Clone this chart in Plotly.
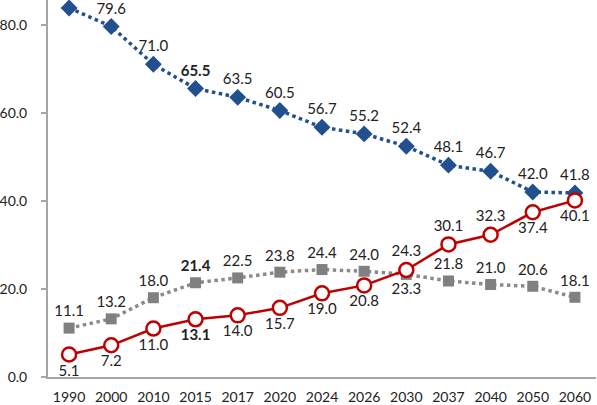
import plotly.graph_objects as go

years = ["1990", "2000", "2010", "2015", "2017", "2020", "2024", "2026", "2030", "2037", "2040", "2050", "2060"]
blue_vals = [83.8, 79.6, 71.0, 65.5, 63.5, 60.5, 56.7, 55.2, 52.4, 48.1, 46.7, 42.0, 41.8]
gray_vals = [11.1, 13.2, 18.0, 21.4, 22.5, 23.8, 24.4, 24.0, 23.3, 21.8, 21.0, 20.6, 18.1]
red_vals = [5.1, 7.2, 11.0, 13.1, 14.0, 15.7, 19.0, 20.8, 24.3, 30.1, 32.3, 37.4, 40.1]
bold_index = 3

gray_pos = ["top center"] * 8 + ["bottom center"] + ["top center"] * 4
red_pos = ["bottom center"] * 8 + ["top center"] * 3 + ["bottom center"] * 2


def labels(vals, hide_first=False):
    out = []
    for i, v in enumerate(vals):
        s = f"{v:.1f}"
        if i == bold_index:
            s = f"<b>{s}</b>"
        if hide_first and i == 0:
            s = ""  # label falls outside the picture in the reference
        out.append(s)
    return out


FONT = "Lato"
lab_font = dict(family=FONT, size=15, color="#222222")

fig = go.Figure()
fig.add_trace(go.Scatter(
    x=years, y=blue_vals, mode="lines+markers+text",
    line=dict(color="#22508f", width=3.5, dash="dot"),
    marker=dict(symbol="diamond", size=13, color="#22508f"),
    text=labels(blue_vals, hide_first=True), textposition="top center", textfont=lab_font,
))
fig.add_trace(go.Scatter(
    x=years, y=gray_vals, mode="lines+markers+text",
    line=dict(color="#8a8a8a", width=3.5, dash="dot"),
    marker=dict(symbol="square", size=11, color="#808080"),
    text=labels(gray_vals), textposition=gray_pos, textfont=lab_font,
))
fig.add_trace(go.Scatter(
    x=years, y=red_vals, mode="lines+markers+text",
    line=dict(color="#c00000", width=2.5),
    marker=dict(symbol="circle", size=14, color="white", line=dict(color="#c00000", width=2.5)),
    text=labels(red_vals), textposition=red_pos, textfont=lab_font,
))

fig.update_layout(
    width=597, height=405,
    margin=dict(l=47, r=1, t=0, b=24),
    paper_bgcolor="white", plot_bgcolor="white",
    showlegend=False,
    font=dict(family=FONT, size=14, color="#222222"),
    xaxis=dict(type="category", range=[-0.5, 12.5], showline=True, linecolor="#a6a6a6", linewidth=2,
               showgrid=False, ticks="", ticklabelstandoff=6,
               tickfont=dict(family=FONT, size=14, color="#222222")),
    yaxis=dict(range=[0, 85.6], tickvals=[0, 20, 40, 60, 80], ticktext=["0.0", "20.0", "40.0", "60.0", "80.0"],
               showline=True, linecolor="#a6a6a6", linewidth=2, showgrid=False, zeroline=False,
               ticks="outside", ticklen=5, tickcolor="#a6a6a6", tickwidth=1.5, ticklabelstandoff=11,
               tickfont=dict(family=FONT, size=14, color="#222222")),
)

fig.write_html("out.html", config={"displayModeBar": False},
               post_script="document.body.style.margin='0px';document.body.style.overflow='hidden';")
